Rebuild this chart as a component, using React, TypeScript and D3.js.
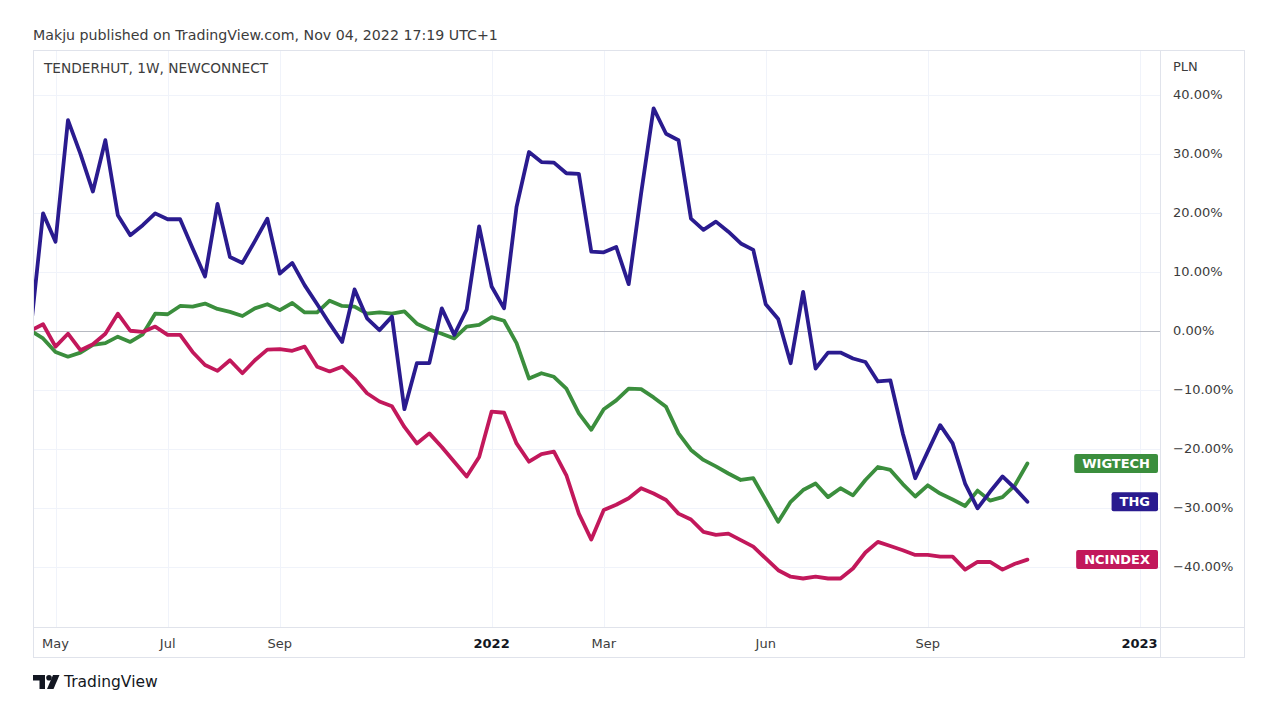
import { useEffect, useRef } from "react";
import * as d3 from "d3";

// weekly closes, % change from first bar
const THG = [
  0, 19.9, 15.1, 35.7, 30.0, 23.6, 32.3, 19.6, 16.2, 17.9,
  19.9, 18.9, 18.9, 14.0, 9.2, 21.5, 12.5, 11.5, 15.2, 19.0,
  9.7, 11.5, 7.7, 4.5, 1.2, -1.9, 7.0, 2.1, 0.1, 2.4,
  -13.3, -5.5, -5.5, 3.8, -0.7, 3.6, 17.7, 7.5, 3.8, 21.0,
  30.3, 28.6, 28.5, 26.7, 26.6, 13.4, 13.3, 14.2, 7.9, 23.3,
  37.7, 33.4, 32.3, 19.0, 17.1, 18.5, 16.8, 14.8, 13.7, 4.5,
  2.0, -5.5, 6.6, -6.4, -3.7, -3.7, -4.7, -5.3, -8.6, -8.4,
  -17.4, -25.0, -20.5, -16.0, -19.1, -25.9, -30.1, -27.3, -24.7, -26.7,
  -29.0,
];

const WIGTECH = [
  0, -1.3, -3.6, -4.4, -3.7, -2.4, -2.1, -1.0, -1.9, -0.6,
  2.9, 2.8, 4.2, 4.1, 4.6, 3.7, 3.2, 2.5, 3.8, 4.5,
  3.5, 4.7, 3.1, 3.1, 5.1, 4.2, 4.1, 2.9, 3.1, 2.9,
  3.3, 1.2, 0.2, -0.5, -1.3, 0.7, 1.0, 2.3, 1.7, -2.1,
  -8.1, -7.2, -7.8, -9.8, -14.0, -16.8, -13.3, -11.8, -9.8, -9.9,
  -11.3, -12.9, -17.4, -20.2, -21.9, -23.0, -24.2, -25.3, -25.0, -28.7,
  -32.4, -29.0, -27.0, -25.9, -28.2, -26.7, -27.9, -25.3, -23.1, -23.6,
  -26.0, -28.1, -26.2, -27.6, -28.6, -29.7, -27.1, -28.8, -28.2, -26.2,
  -22.5,
];

const NCINDEX = [
  0, 1.1, -2.7, -0.5, -3.3, -2.3, -0.5, 2.9, 0, -0.2,
  0.7, -0.7, -0.7, -3.6, -5.8, -6.8, -5.0, -7.2, -5.0, -3.2,
  -3.1, -3.4, -2.7, -6.1, -6.9, -6.1, -8.1, -10.6, -12.0, -12.8,
  -16.3, -19.1, -17.4, -19.7, -22.2, -24.7, -21.4, -13.7, -13.9, -19.1,
  -22.2, -20.9, -20.5, -24.5, -31.0, -35.4, -30.4, -29.5, -28.4, -26.7,
  -27.6, -28.7, -31.0, -32.0, -34.1, -34.6, -34.4, -35.5, -36.6, -38.6,
  -40.6, -41.7, -42.0, -41.7, -42.0, -42.0, -40.3, -37.6, -35.8, -36.5,
  -37.2, -38.0, -38.0, -38.3, -38.3, -40.5, -39.2, -39.2, -40.5, -39.5,
  -38.8,
];

const START = new Date(2021, 3, 19);
const Y_TICKS = [40, 30, 20, 10, 0, -10, -20, -30, -40];
const X_TICK_DATES = [
  new Date(2021, 4, 3), new Date(2021, 6, 5), new Date(2021, 8, 6), new Date(2022, 0, 3),
  new Date(2022, 2, 7), new Date(2022, 5, 6), new Date(2022, 8, 5), new Date(2023, 0, 2),
];
const X_TICK_LABELS = ["May", "Jul", "Sep", "2022", "Mar", "Jun", "Sep", "2023"];

const SERIES = [
  { name: "WIGTECH", values: WIGTECH, color: "#3b8e3d" },
  { name: "NCINDEX", values: NCINDEX, color: "#c2185b" },
  { name: "THG", values: THG, color: "#2a1b8f" },
];

const FONT = "'DejaVu Sans', Verdana, sans-serif";

export default function App() {
  const ref = useRef<SVGSVGElement>(null);

  useEffect(() => {
    if (!ref.current) return;
    const svg = d3.select(ref.current);
    svg.selectAll("*").remove();

    // frame
    const L = 33, R = 1160, T = 50, B = 627, AR = 1245, AB = 658;

    const dates = THG.map((_, i) => d3.timeWeek.offset(START, i));
    const x = d3.scaleTime()
      .domain([START, dates[dates.length - 1]])
      .range([30.6, 1027.4]);
    const y = d3.scaleLinear().domain([-40, 40]).range([566.7, 94.8]);

    svg.append("rect").attr("width", 1280).attr("height", 720).attr("fill", "#fff");

    svg.append("text")
      .attr("x", 33).attr("y", 40)
      .style("font-family", FONT).style("font-size", "14.2px")
      .attr("fill", "#3c3c3c")
      .text("Makju published on TradingView.com, Nov 04, 2022 17:19 UTC+1");

    // grid
    const grid = svg.append("g");
    grid.selectAll("line.h")
      .data(Y_TICKS.filter((d) => d !== 0))
      .enter().append("line")
      .attr("x1", L).attr("x2", R)
      .attr("y1", (d) => Math.round(y(d)) + 0.5).attr("y2", (d) => Math.round(y(d)) + 0.5)
      .attr("stroke", "#f0f3fa");
    grid.selectAll("line.v")
      .data(X_TICK_DATES)
      .enter().append("line")
      .attr("x1", (d) => Math.round(x(d)) + 0.5).attr("x2", (d) => Math.round(x(d)) + 0.5)
      .attr("y1", T).attr("y2", B)
      .attr("stroke", "#f0f3fa");
    grid.append("line")
      .attr("x1", L).attr("x2", R)
      .attr("y1", Math.round(y(0)) + 0.5).attr("y2", Math.round(y(0)) + 0.5)
      .attr("stroke", "#b7bac2");

    // border lines
    const border = svg.append("g").attr("stroke", "#e0e3eb").attr("fill", "none");
    border.append("rect").attr("x", L + 0.5).attr("y", T + 0.5).attr("width", AR - L - 1).attr("height", AB - T - 1);
    border.append("line").attr("x1", R + 0.5).attr("x2", R + 0.5).attr("y1", T).attr("y2", AB);
    border.append("line").attr("x1", L).attr("x2", AR).attr("y1", B + 0.5).attr("y2", B + 0.5);

    // lines
    svg.append("clipPath").attr("id", "plot-clip")
      .append("rect").attr("x", L + 1).attr("y", T + 1).attr("width", R - L - 1).attr("height", B - T - 1);

    const line = d3.line<number>()
      .x((_, i) => x(dates[i]))
      .y((d) => y(d));

    svg.append("g").attr("clip-path", "url(#plot-clip)")
      .selectAll("path")
      .data(SERIES)
      .enter().append("path")
      .attr("d", (s) => line(s.values))
      .attr("fill", "none")
      .attr("stroke", (s) => s.color)
      .attr("stroke-width", 3.8)
      .attr("stroke-linejoin", "round")
      .attr("stroke-linecap", "round");

    // legend
    svg.append("text")
      .attr("x", 44).attr("y", 68).attr("dy", "0.35em")
      .style("font-family", FONT).style("font-size", "13.7px")
      .attr("fill", "#3c3c3c")
      .text("TENDERHUT, 1W, NEWCONNECT");

    // price axis
    svg.append("text")
      .attr("x", 1173).attr("y", 66).attr("dy", "0.35em")
      .style("font-family", FONT).style("font-size", "13px")
      .attr("fill", "#3c3c3c")
      .text("PLN");
    svg.append("g").selectAll("text")
      .data(Y_TICKS)
      .enter().append("text")
      .attr("x", 1173).attr("y", (d) => y(d)).attr("dy", "0.35em")
      .style("font-family", FONT).style("font-size", "13px")
      .attr("fill", "#3c3c3c")
      .text((d) => (d < 0 ? "\u2212" : "") + Math.abs(d).toFixed(2) + "%");

    // time axis
    svg.append("g").selectAll("text")
      .data(X_TICK_DATES)
      .enter().append("text")
      .attr("x", (d) => x(d)).attr("y", 643).attr("dy", "0.35em")
      .attr("text-anchor", "middle")
      .style("font-family", FONT).style("font-size", "13px")
      .style("font-weight", (_, i) => (X_TICK_LABELS[i].length === 4 ? "bold" : "normal"))
      .attr("fill", (_, i) => (X_TICK_LABELS[i].length === 4 ? "#131722" : "#3c3c3c"))
      .text((_, i) => X_TICK_LABELS[i]);

    // last-value badges
    SERIES.forEach((s) => {
      const cy = y(s.values[s.values.length - 1]);
      const g = svg.append("g");
      const t = g.append("text")
        .attr("x", 1150).attr("y", cy).attr("dy", "0.36em")
        .attr("text-anchor", "end")
        .style("font-family", FONT).style("font-size", "13px").style("font-weight", "bold")
        .attr("fill", "#fff")
        .text(s.name);
      const w = (t.node() as SVGTextElement).getComputedTextLength();
      g.insert("rect", "text")
        .attr("x", 1150 - w - 8).attr("y", cy - 9.5)
        .attr("width", w + 16).attr("height", 19)
        .attr("rx", 2)
        .attr("fill", s.color);
    });

    // footer logo
    const logo = svg.append("g").attr("fill", "#131722");
    logo.append("path").attr("d", "M33,675 H45 V689 H39.5 V680.5 H33 Z");
    logo.append("circle").attr("cx", 49).attr("cy", 677.8).attr("r", 2.8);
    logo.append("path").attr("d", "M53,675 H59.5 L53.5,689 H47 Z");
    svg.append("text")
      .attr("x", 64).attr("y", 682).attr("dy", "0.35em")
      .style("font-family", FONT).style("font-size", "15.5px")
      .attr("fill", "#131722")
      .text("TradingView");
  }, []);

  return (
    <div style={{ position: "absolute", left: 0, top: 0 }}>
      <svg ref={ref} width={1280} height={720} style={{ display: "block" }} />
    </div>
  );
}
